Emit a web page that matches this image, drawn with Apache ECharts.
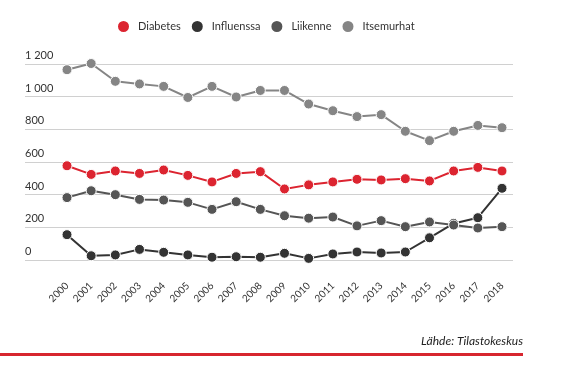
<!DOCTYPE html>
<html>
<head>
<meta charset="utf-8">
<script src="https://cdn.jsdelivr.net/npm/echarts@6/dist/echarts.min.js"></script>
<style>
  html, body { margin: 0; padding: 0; background: #fff; }
  #chart { width: 568px; height: 375px; }
</style>
</head>
<body>
<div id="chart"></div>
<script>
  // vuodet ja sarjat (luettu kuvasta)
  const years = ['2000', '2001', '2002', '2003', '2004', '2005', '2006', '2007', '2008', '2009',
    '2010', '2011', '2012', '2013', '2014', '2015', '2016', '2017', '2018'];
  const diabetes = [577, 524, 545, 530, 551, 518, 478, 530, 541, 435, 460, 478, 494, 490, 498, 484, 545, 567, 545];
  const influenssa = [155, 26, 31, 65, 47, 31, 17, 20, 17, 41, 10, 37, 49, 43, 49, 136, 224, 259, 439];
  const liikenne = [382, 424, 400, 371, 367, 353, 310, 357, 310, 271, 256, 263, 209, 241, 204, 233, 214, 196, 204];
  const itsemurhat = [1165, 1203, 1094, 1078, 1063, 995, 1063, 998, 1038, 1038, 955, 914, 878, 890, 788, 731, 788, 824, 810];
  const yTicks = [0, 200, 400, 600, 800, 1000, 1200];

  const chart = echarts.init(document.getElementById('chart'));

  function line(name, data, color) {
    return {
      name: name,
      type: 'line',
      xAxisIndex: 1,
      yAxisIndex: 1,
      data: data,
      clip: false,
      symbol: 'circle',
      symbolSize: 10,
      showSymbol: true,
      animation: false,
      lineStyle: { color: color, width: 2 },
      itemStyle: { color: color, borderColor: '#fff', borderWidth: 1 }
    };
  }

  chart.setOption({
    backgroundColor: '#fff',
    textStyle: { fontFamily: 'Lato' },
    legend: {
      top: 14,
      left: 111,
      icon: 'circle',
      itemWidth: 13,
      itemHeight: 13,
      itemGap: 9,
      textStyle: { fontSize: 11, color: '#333', fontFamily: 'Lato', padding: [0, 0, 0, 3] },
      data: ['Diabetes', 'Influenssa', 'Liikenne', 'Itsemurhat']
    },
    grid: [
      { left: 25, right: 55, top: 64, bottom: 115 },
      { left: 67, right: 66, top: 64, bottom: 115 }
    ],
    xAxis: [{
      gridIndex: 0,
      type: 'category',
      show: false,
      data: years
    }, {
      gridIndex: 1,
      type: 'category',
      boundaryGap: false,
      data: years,
      axisLine: { show: false },
      axisTick: { show: false },
      axisLabel: {
        interval: 0,
        rotate: 45,
        margin: 24,
        fontSize: 10,
        color: '#333'
      }
    }],
    yAxis: [{
      gridIndex: 0,
      type: 'value',
      min: yTicks[0],
      max: yTicks[yTicks.length - 1],
      interval: 200,
      axisLine: { show: false },
      axisTick: { show: false },
      splitLine: { lineStyle: { color: '#d0d0d0', width: 1 } },
      axisLabel: {
        inside: true,
        margin: 0,
        align: 'left',
        verticalAlign: 'bottom',
        padding: [0, 0, 3, 0],
        fontSize: 11,
        color: '#333',
        formatter: function (v) {
          return String(v).replace(/\B(?=(\d{3})+(?!\d))/g, ' ');
        }
      }
    }, {
      gridIndex: 1,
      type: 'value',
      min: yTicks[0],
      max: yTicks[yTicks.length - 1],
      show: false
    }],
    graphic: [{
      type: 'text',
      right: 45,
      top: 335,
      style: {
        text: 'Lähde: Tilastokeskus',
        fontSize: 12,
        fontStyle: 'italic',
        fontFamily: 'Lato',
        fill: '#222'
      }
    }, {
      type: 'rect',
      left: 0,
      top: 353,
      shape: { width: 523, height: 3 },
      style: { fill: '#d7262f' }
    }],
    series: [
      line('Diabetes', diabetes, '#dc2430'),
      line('Influenssa', influenssa, '#333333'),
      line('Liikenne', liikenne, '#555555'),
      line('Itsemurhat', itsemurhat, '#858585')
    ]
  });
</script>
</body>
</html>
